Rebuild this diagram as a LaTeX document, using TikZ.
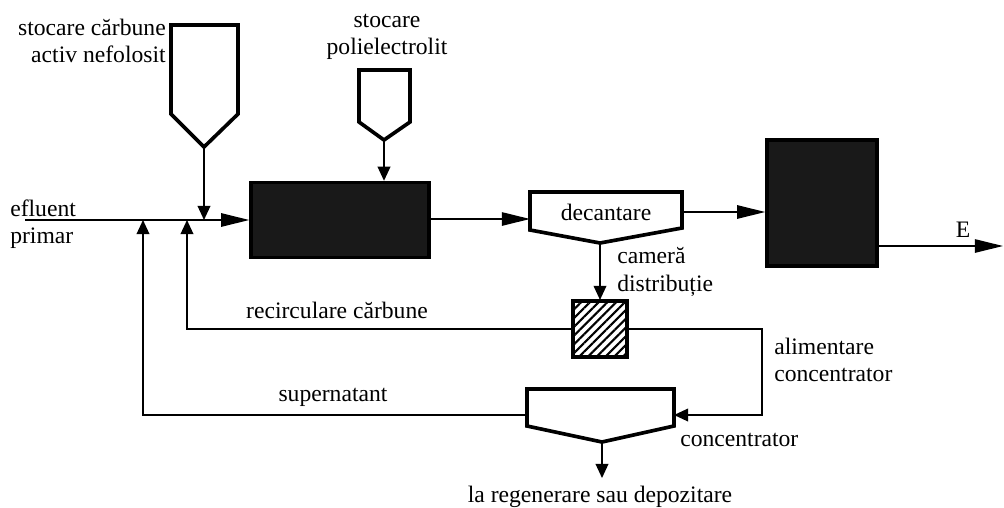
\documentclass[tikz,border=0pt]{standalone}
\usepackage{fontspec}
\setmainfont{Liberation Serif}
\usetikzlibrary{arrows.meta,positioning,patterns.meta}

\tikzset{
  darkbox/.style={draw=black,line width=2.4pt,fill=black!90,inner sep=0pt},
  hatchbox/.style={draw=black,line width=2.4pt,inner sep=0pt,
    pattern={Lines[angle=45,distance=4.4pt,line width=1.5pt]}},
  vessel/.style={line width=2.6pt,line join=miter},
  flow/.style={line width=1.1pt,-{Triangle[length=20pt,width=9.5pt]}},
  feed/.style={line width=1.1pt,-{Triangle[length=10pt,width=9pt]}},
  lbl/.style={font=\fontsize{16.8}{19.5}\selectfont,inner sep=0pt}
}

\begin{document}
\begin{tikzpicture}[x=0.025cm,y=-0.025cm]
        \useasboundingbox (0,0) rectangle (1004,507);

        % storage hoppers
        \draw[vessel] (171,25) -- (238,25) -- (238,114) -- (204,147) -- (171,114) -- cycle;
        \coordinate (h1) at (204,147);
        \draw[vessel] (359,70) -- (410,70) -- (410,122) -- (384,140) -- (359,122) -- cycle;
        \coordinate (h2) at (384,140);

        \node[lbl,anchor=east,align=right] (lblh1) at (166,41) {stocare cărbune\\activ nefolosit};
        \node[lbl,align=center] (lblh2) at (387,37) {stocare\\polielectrolit};

        % units
        \node[darkbox,minimum width=4.45cm,minimum height=1.875cm] (contact) at (340,220) {};
        \node[darkbox,minimum width=2.75cm,minimum height=3.15cm] (filter) at (822,203) {};
        \node[hatchbox,minimum width=1.35cm,minimum height=1.4cm] (camera) at (600,329) {};

        \draw[vessel] (530,192) -- (682,192) -- (682,228) -- (600,243) -- (530,230) -- cycle;
        \node[lbl] (dec) at (606,212) {decantare};
        \coordinate (decw) at (530,219);
        \coordinate (dece) at (682,212);
        \coordinate (decs) at (600,243);

        \draw[vessel] (527,389) -- (674,389) -- (674,426) -- (602,442) -- (527,426) -- cycle;
        \coordinate (conce) at (674,415);
        \coordinate (concw) at (527,415);
        \coordinate (concs) at (602,442);

        % main line
        \coordinate (in) at (25,220);
        \coordinate (j1) at (143,220);
        \coordinate (j2) at (187,220);
        \coordinate (j3) at (204,220);
        \coordinate (out) at (1003,246);
        \coordinate (bend) at (762,329);
        \coordinate (waste) at (602,478);

        \draw[flow] (in) -- (contact.west);
        \draw[feed] (h1) -- (j3);
        \draw[feed] (h2) -- (h2 |- contact.north);
        \draw[flow] (contact.east |- decw) -- (decw);
        \draw[flow] (dece) -- (filter.west |- dece);
        \draw[flow] (filter.east |- out) -- (out);
        \draw[feed] (decs) -- (camera.north);
        \draw[feed] (camera.west) -| (j2);
        \draw[feed] (camera.east) -- (bend) |- (conce);
        \draw[feed] (concw) -| (j1);
        \draw[feed] (concs) -- (waste);

        % labels
        \node[lbl,anchor=west,align=left] (lblin) at (10,224) {efluent\\primar};
        \node[lbl] (lblout) at (963,230) {E};
        \node[lbl,anchor=west,align=left] (lblcam) at (617,272) {cameră\\distribuție};
        \node[lbl] (lblrec) at (337,310) {recirculare cărbune};
        \node[lbl,anchor=west,align=left] (lblfeed) at (774,360) {alimentare\\concentrator};
        \node[lbl] (lblsup) at (333,397) {supernatant};
        \node[lbl,anchor=west] (lblconc) at (680,440) {concentrator};
        \node[lbl] (lblwaste) at (600,497) {la regenerare sau depozitare};
\end{tikzpicture}
\end{document}
